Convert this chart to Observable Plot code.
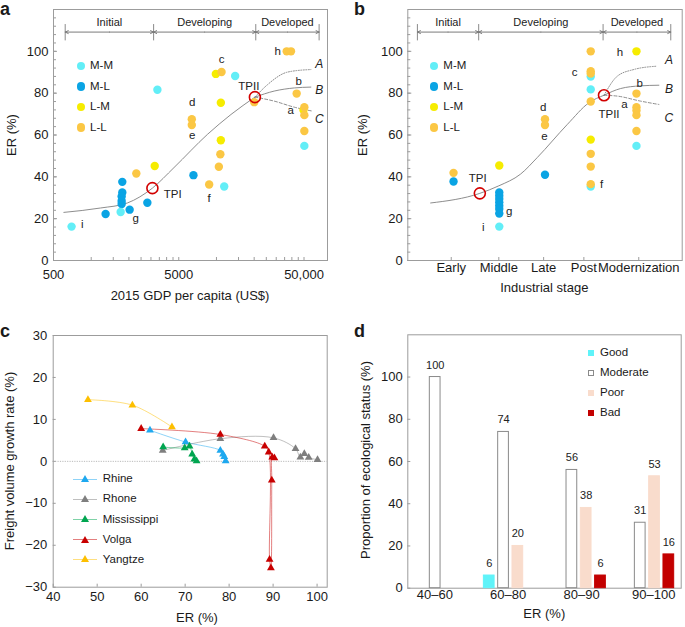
<!DOCTYPE html>
<html><head><meta charset="utf-8">
<script src="https://cdn.jsdelivr.net/npm/d3@7"></script>
<script src="https://cdn.jsdelivr.net/npm/@observablehq/plot@0.6"></script>
<style>
body{margin:0;background:#fff;}
#fig{position:relative;width:685px;height:627px;font-family:"Liberation Sans",Arial,Helvetica,sans-serif;color:#1a1a1a;overflow:hidden;background:#fff}
.lbl{position:absolute;white-space:nowrap;line-height:1;}
.sym{position:absolute;}
</style></head><body><div id="fig"></div>
<script>
// ---------- DATA ----------
// Panels a & b: groups
const groups = ["M-M", "M-L", "L-M", "L-L"];
const groupColors = ["#62eef7", "#0aa4e4", "#f6ec00", "#fbc744"];

// Panel a: GDP per capita (US$) vs ER (%)
const aMLgdp = [1303, 1771, 1771, 1750, 1750, 1750, 2027, 2807, 6550];
const aMLer  = [22.2, 37.6, 32.5, 30.6, 28.5, 27.0, 24.3, 27.6, 40.8];
const aMMgdp = [697, 1718, 3377, 11530, 14100, 50300];
const aMMer  = [16.2, 23.2, 81.6, 35.4, 88.2, 54.8];
const aLMgdp = [3214, 9885, 10840, 10840, 49500];
const aLMer  = [45.2, 89.2, 75.4, 57.5, 71.9];
const aLLgdp = [2292, 6355, 6355, 8745, 10450, 10740, 10980, 20030, 36370, 39370, 43690, 50300, 50300, 50300];
const aLLer  = [41.6, 67.5, 64.8, 36.3, 44.8, 50.8, 90.1, 75.7, 100, 100, 79.8, 73.3, 69.5, 61.9];
const aCurveGdp = [605, 1188, 1945, 3080, 4577, 8476, 13050, 20270];
const aCurveEr  = [23.0, 25.1, 27.5, 34.6, 44.4, 60.3, 69.8, 78.1];
const aBranchAgdp = [20270, 25600, 37100, 56700], aBranchAer = [78.1, 84.1, 90.1, 91.3];
const aBranchBgdp = [20270, 28900, 41800, 56700], aBranchBer = [78.1, 81.0, 82.5, 82.9];
const aBranchCgdp = [20270, 28900, 41800, 58600], aBranchCer = [78.1, 76.2, 73.3, 71.4];
const aTPgdp = [3080, 20270], aTPer = [34.6, 78.1];
const aLabText = ["h", "c", "d", "e", "f", "g", "i", "a", "b", "TPII", "TPI"];
const aLabGdp  = [30800, 11000, 6400, 6400, 8750, 2265, 848, 39200, 45400, 18150, 4470];
const aLabEr   = [100, 96.3, 75.4, 60, 29.5, 20.1, 17.1, 71.9, 85.7, 83.3, 31.8];
const aScenText = ["A", "B", "C"], aScenGdp = [66300, 66300, 66300], aScenEr = [93.7, 81.3, 67.5];
const aStageBounds = [620, 3150, 20600, 66000];
const stageNames = ["Initial", "Developing", "Developed"];
const aTickLabels = [500, 5000, 50000];

// Panel b: industrial stage vs ER (%)
const bStageLabels = ["Early", "Middle", "Late", "Post", "Modernization"];
const bStageTicks  = [0.95, 1.99, 2.97, 3.85, 5.05];
const bMLstage = [1, 2, 2, 2, 2, 2, 2, 2, 3];
const bMLer    = [37.8, 32.5, 31.0, 29.4, 27.8, 26.2, 24.6, 22.5, 41.0];
const bMMstage = [2, 4, 4, 4, 5];
const bMMer    = [16.2, 88.0, 81.8, 35.4, 54.8];
const bLMstage = [2, 4, 5];
const bLMer    = [45.4, 57.8, 100];
const bLLstage = [1, 3, 3, 4, 4, 4, 4, 4, 4, 4, 5, 5, 5, 5, 5];
const bLLer    = [41.9, 67.5, 64.8, 100, 90.5, 89.4, 76.0, 51.0, 44.9, 36.5, 79.8, 73.3, 71.7, 69.5, 61.9];
const bCurveStage = [0.5, 1.575, 1.99, 2.465, 2.83, 3.49, 3.96, 4.29];
const bCurveEr    = [27.5, 32.1, 35.7, 41.3, 49.2, 65.1, 75.4, 79.0];
const bBranchAst = [4.29, 4.58, 4.94, 5.45], bBranchAer = [79.0, 88.1, 91.3, 92.9];
const bBranchBst = [4.29, 4.65, 5.09, 5.49], bBranchBer = [79.0, 82.2, 83.5, 83.8];
const bBranchCst = [4.29, 4.58, 5.09, 5.49], bBranchCer = [79.0, 78.6, 76.2, 74.6];
const bTPstage = [1.575, 4.29], bTPer = [32.1, 79.0];
const bLabText  = ["h", "c", "d", "e", "f", "g", "i", "a", "b", "TPII", "TPI"];
const bLabStage = [4.64, 3.65, 2.96, 2.99, 4.24, 2.22, 1.65, 4.74, 5.07, 4.4, 1.53];
const bLabEr    = [99.7, 90, 73, 59.5, 36.5, 23.3, 15.9, 74.6, 84.9, 70.1, 39.4];
const bScenStage = [5.71, 5.71, 5.71], bScenEr = [95.6, 81.8, 68.2];
const bStageBounds = [0.21, 1.55, 4.27, 5.75];

// Panel c: ER (%) vs freight volume growth rate (%)
const rivers = ["Rhine", "Rhone", "Mississippi", "Volga", "Yangtze"];
const riverColors = ["#1ea8ef", "#7f7f7f", "#00a550", "#c80000", "#fdbf00"];
const rhineEr = [62.0, 70.1, 78.0, 78.6, 78.9, 79.2], rhineRate = [7.4, 4.6, 2.6, 1.7, 1.1, 0.1];
const rhoneEr = [64.9, 78.0, 90.1, 95.1, 96.2, 97.1, 98.1, 100.1], rhoneRate = [2.6, 5.4, 5.6, 3.0, 1.0, 1.8, 0.9, 0.4];
const missEr = [65.0, 69.9, 71.0, 71.6, 72.1, 72.6], missRate = [3.4, 3.2, 3.6, 1.7, 0.5, 0.1];
const volgaEr = [60.0, 78.0, 88.1, 89.0, 89.2, 89.5, 89.7, 89.8, 90.3], volgaRate = [7.8, 6.4, 3.6, 2.2, -23.4, -25.4, -4.5, 1.0, 0.8];
const yangtzeEr = [47.9, 58.0, 67.0], yangtzeRate = [14.7, 13.4, 8.2];

// Panel d: proportion of ecological status (%)
const dBins = ["40–60", "60–80", "80–90", "90–100"];
const dStatus = ["Good", "Moderate", "Poor", "Bad"];
const dGood = [0, 6, 0, 0];
const dModerate = [100, 74, 56, 31];
const dPoor = [0, 20, 38, 53];
const dBad = [0, 0, 6, 16];
const dFill = ["#5ff3f9", "#ffffff", "#f9dccc", "#c30000"];
const dStroke = ["#5ff3f9", "#8a8a8a", "#f9dccc", "#c30000"];

// ---------- HELPERS ----------
const fig = document.getElementById("fig");
const FONT = '"Liberation Sans", Arial, Helvetica, sans-serif';
const baseStyle = {fontFamily: FONT, fontSize: "13px", color: "#1a1a1a", background: "transparent", overflow: "visible"};
const FRAME = "#9c9c9c";
const CURVE = "#808080";
const TXT = "#222";
const zip = (xs, ys) => xs.map((x, i) => ({x, y: ys[i]}));

function mount(svg, left, top) {
  svg.style.position = "absolute";
  svg.style.left = left + "px";
  svg.style.top = top + "px";
  fig.appendChild(svg);
}
function label(text, x, y, {size = 11, anchor = "left", rotate = false, weight = "normal"} = {}) {
  const d = document.createElement("div");
  d.className = "lbl";
  d.textContent = text;
  d.style.left = x + "px";
  d.style.top = y + "px";
  d.style.fontSize = size + "px";
  d.style.fontWeight = weight;
  const tx = anchor === "center" ? "-50%" : "0";
  d.style.transform = `translate(${tx},-50%)` + (rotate ? " rotate(-90deg)" : "");
  fig.appendChild(d);
}
function sym(x, y, css) {
  const d = document.createElement("div");
  d.className = "sym";
  d.style.cssText += css;
  d.style.left = x + "px";
  d.style.top = y + "px";
  fig.appendChild(d);
}
function insideTicks(axis, values, len, span) {
  return axis === "x"
    ? Plot.tickX(values, {insetTop: span - len, stroke: FRAME, strokeWidth: 1})
    : Plot.tickY(values, {insetRight: span - len, stroke: FRAME, strokeWidth: 1});
}
const minorY = d3.range(0, 120, 4);
const majorY = [0, 20, 40, 60, 80, 100];

function header(bounds, mid) {
  const seps = bounds.map(x => ({x, y1: 105, y2: 112.8}));
  const arrows = [];
  const texts = [];
  for (let i = 0; i < bounds.length - 1; i++) {
    const m = mid(bounds[i], bounds[i + 1]);
    arrows.push({x1: m, x2: bounds[i], y: 109.2});
    arrows.push({x1: m, x2: bounds[i + 1], y: 109.2});
    texts.push({x: m, y: 114, t: stageNames[i]});
  }
  return [
    Plot.ruleX(seps, {x: "x", y1: "y1", y2: "y2", stroke: "#8a8a8a", strokeWidth: 1}),
    Plot.arrow(arrows, {x1: "x1", x2: "x2", y1: "y", y2: "y", stroke: "#7a7a7a", strokeWidth: 1, headLength: 5, headAngle: 50}),
    Plot.text(texts, {x: "x", y: "y", text: "t", fontSize: 11, fill: TXT})
  ];
}

// ---------- PANEL A ----------
const aMinorX = [...d3.range(500, 5000, 500), ...d3.range(5000, 50000, 5000), 50000];
const aW = 340, aH = 310, aML = 53, aMR = 13, aMT = 9, aMB = 50;
const aPW = aW - aML - aMR, aPH = aH - aMT - aMB;
const aGroupsData = [
  [zip(aMLgdp, aMLer), groupColors[1]],
  [zip(aMMgdp, aMMer), groupColors[0]],
  [zip(aLMgdp, aLMer), groupColors[2]],
  [zip(aLLgdp, aLLer), groupColors[3]]
];
const fmtGdp = d => d >= 10000 ? d3.format(",")(d) : String(d);
const plotA = Plot.plot({
  width: aW, height: aH, marginLeft: aML, marginRight: aMR, marginTop: aMT, marginBottom: aMB,
  style: baseStyle,
  x: {type: "log", domain: [500, 77000], axis: null, label: null},
  y: {domain: [0, 120], ticks: majorY, tickSize: 0, tickPadding: 5, label: null},
  marks: [
    Plot.frame({stroke: FRAME}),
    insideTicks("x", aMinorX, 3, aPH),
    insideTicks("y", minorY, 3, aPW),
    insideTicks("y", majorY, 4, aPW),
    Plot.text(aTickLabels, {x: d => d, text: fmtGdp, frameAnchor: "bottom", dy: 18, fontSize: 13, fill: "#1a1a1a"}),
    ...header(aStageBounds, (p, q) => Math.sqrt(p * q)),
    Plot.line(zip(aCurveGdp, aCurveEr), {x: "x", y: "y", stroke: CURVE, strokeWidth: 0.9, curve: "monotone-x"}),
    Plot.line(zip(aBranchAgdp, aBranchAer), {x: "x", y: "y", stroke: CURVE, strokeWidth: 0.9, strokeDasharray: "1,1.5", curve: "monotone-x"}),
    Plot.line(zip(aBranchBgdp, aBranchBer), {x: "x", y: "y", stroke: CURVE, strokeWidth: 0.9, curve: "monotone-x"}),
    Plot.line(zip(aBranchCgdp, aBranchCer), {x: "x", y: "y", stroke: CURVE, strokeWidth: 0.9, strokeDasharray: "3,2", curve: "monotone-x"}),
    ...aGroupsData.map(([d, c]) => Plot.dot(d, {x: "x", y: "y", r: 4.2, fill: c})),
    Plot.dot(zip(aTPgdp, aTPer), {x: "x", y: "y", r: 5.5, stroke: "#d20000", strokeWidth: 1.6, fill: "none"}),
    Plot.text(aLabText.map((t, i) => ({t, x: aLabGdp[i], y: aLabEr[i]})), {x: "x", y: "y", text: "t", fontSize: 11.5, fill: TXT}),
    Plot.text(aScenText.map((t, i) => ({t, x: aScenGdp[i], y: aScenEr[i]})), {x: "x", y: "y", text: "t", fontSize: 12, fontStyle: "italic", fill: TXT})
  ]
});
mount(plotA, 0, 0);

// ---------- PANEL B ----------
const bW = 345, bH = 310, bML = 67.3, bMR = 3.3, bMT = 9, bMB = 50;
const bPW = bW - bML - bMR, bPH = bH - bMT - bMB;
const bGroupsData = [
  [zip(bMLstage, bMLer), groupColors[1]],
  [zip(bMMstage, bMMer), groupColors[0]],
  [zip(bLMstage, bLMer), groupColors[2]],
  [zip(bLLstage, bLLer), groupColors[3]]
];
const plotB = Plot.plot({
  width: bW, height: bH, marginLeft: bML, marginRight: bMR, marginTop: bMT, marginBottom: bMB,
  style: baseStyle,
  x: {domain: [0, 6], axis: null, label: null},
  y: {domain: [0, 120], ticks: majorY, tickSize: 0, tickPadding: 5, label: null},
  marks: [
    Plot.frame({stroke: FRAME}),
    insideTicks("x", bStageTicks, 3, bPH),
    insideTicks("y", minorY, 3, bPW),
    insideTicks("y", majorY, 4, bPW),
    Plot.text(bStageTicks, {x: d => d, text: (d, i) => bStageLabels[i], frameAnchor: "bottom", dy: 11.5, fontSize: 13, fill: "#1a1a1a"}),
    ...header(bStageBounds, (p, q) => (p + q) / 2),
    Plot.line(zip(bCurveStage, bCurveEr), {x: "x", y: "y", stroke: CURVE, strokeWidth: 0.9, curve: "monotone-x"}),
    Plot.line(zip(bBranchAst, bBranchAer), {x: "x", y: "y", stroke: CURVE, strokeWidth: 0.9, strokeDasharray: "1,1.5", curve: "monotone-x"}),
    Plot.line(zip(bBranchBst, bBranchBer), {x: "x", y: "y", stroke: CURVE, strokeWidth: 0.9, curve: "monotone-x"}),
    Plot.line(zip(bBranchCst, bBranchCer), {x: "x", y: "y", stroke: CURVE, strokeWidth: 0.9, strokeDasharray: "3,2", curve: "monotone-x"}),
    ...bGroupsData.map(([d, c]) => Plot.dot(d, {x: "x", y: "y", r: 4.2, fill: c})),
    Plot.dot(zip(bTPstage, bTPer), {x: "x", y: "y", r: 5.5, stroke: "#d20000", strokeWidth: 1.6, fill: "none"}),
    Plot.text(bLabText.map((t, i) => ({t, x: bLabStage[i], y: bLabEr[i]})), {x: "x", y: "y", text: "t", fontSize: 11.5, fill: TXT}),
    Plot.text(aScenText.map((t, i) => ({t, x: bScenStage[i], y: bScenEr[i]})), {x: "x", y: "y", text: "t", fontSize: 12, fontStyle: "italic", fill: TXT})
  ]
});
mount(plotB, 340, 0);

// ---------- PANEL C ----------
const cW = 340, cH = 317, cML = 52.7, cMR = 13.3, cMT = 25, cMB = 40.3;
const cPW = cW - cML - cMR, cPH = cH - cMT - cMB;
const riverData = [
  zip(rhineEr, rhineRate), zip(rhoneEr, rhoneRate), zip(missEr, missRate), zip(volgaEr, volgaRate), zip(yangtzeEr, yangtzeRate)
];
const cXTicks = d3.range(40, 101, 10), cYTicks = d3.range(-30, 31, 10);
const plotC = Plot.plot({
  width: cW, height: cH, marginLeft: cML, marginRight: cMR, marginTop: cMT, marginBottom: cMB,
  style: baseStyle,
  x: {domain: [40, 102.3], ticks: cXTicks, tickSize: 0, tickPadding: 5, label: null},
  y: {domain: [-30, 30], ticks: cYTicks, tickSize: 0, tickPadding: 6, label: null},
  marks: [
    Plot.frame({stroke: FRAME}),
    insideTicks("x", cXTicks, 3, cPH),
    insideTicks("y", cYTicks, 3, cPW),
    Plot.ruleY([0], {stroke: "#a8a8a8", strokeWidth: 0.8, strokeDasharray: "1.2,1.2"}),
    ...riverData.map((d, i) => Plot.line(d, {x: "x", y: "y", stroke: riverColors[i], strokeOpacity: 0.5, strokeWidth: 1, curve: "catmull-rom"})),
    ...riverData.map((d, i) => Plot.dot(d, {x: "x", y: "y", symbol: "triangle", r: 2.9, fill: riverColors[i]}))
  ]
});
mount(plotC, 0, 310);

// ---------- PANEL D ----------
const dW = 345, dH = 317, dML = 67.3, dMR = 4.3, dMT = 24.3, dMB = 39.3;
const dPW = dW - dML - dMR, dPH = dH - dMT - dMB;
const dValues = [dGood, dModerate, dPoor, dBad];
const dGroupW = 4.78, dOff = 0.54, dBarW = 0.75;
const dRows = dStatus.map((s, si) => dBins.map((b, gi) => ({
  status: s, bin: b, v: dValues[si][gi], y0: 0,
  x1: gi * dGroupW + dOff + si, x2: gi * dGroupW + dOff + si + dBarW
})));
const dTickPos = [1.89, 7.02, 12.15, 17.2];
const plotD = Plot.plot({
  width: dW, height: dH, marginLeft: dML, marginRight: dMR, marginTop: dMT, marginBottom: dMB,
  style: baseStyle,
  x: {domain: [0, 4 * dGroupW], axis: null, label: null},
  y: {domain: [0, 120], ticks: majorY, tickSize: 0, tickPadding: 5, label: null},
  marks: [
    Plot.frame({stroke: FRAME}),
    insideTicks("y", majorY, 3, dPW),
    Plot.text(dTickPos, {x: d => d, text: (d, i) => dBins[i], frameAnchor: "bottom", dy: 11, fontSize: 13, fill: "#1a1a1a"}),
    ...dRows.map((rows, si) => Plot.rect(rows, {x1: "x1", x2: "x2", y1: "y0", y2: "v", fill: dFill[si], stroke: dStroke[si], strokeWidth: 1})),
    Plot.text(dRows.flat().filter(d => d.v > 0), {x: d => (d.x1 + d.x2) / 2, y: "v", text: d => String(d.v), dy: -12, fontSize: 11, fill: TXT})
  ]
});
mount(plotD, 340, 310);

// ---------- LEGENDS & TITLES (HTML) ----------
label("a", 0, 9, {size: 18, weight: "bold"});
label("b", 354, 9, {size: 18, weight: "bold"});
label("c", 0, 330.5, {size: 18, weight: "bold"});
label("d", 354, 330.5, {size: 18, weight: "bold"});

label("ER (%)", 11, 135, {size: 13, anchor: "center", rotate: true});
label("2015 GDP per capita (US$)", 190, 295, {size: 13, anchor: "center"});
label("ER (%)", 362, 135, {size: 13, anchor: "center", rotate: true});
label("Industrial stage", 544.3, 287, {size: 13, anchor: "center"});
label("Freight volume growth rate (%)", 8.5, 461, {size: 13, anchor: "center", rotate: true});
label("ER (%)", 197, 616.7, {size: 13, anchor: "center"});
label("Proportion of ecological status (%)", 364.5, 460, {size: 13, anchor: "center", rotate: true});
label("ER (%)", 544.3, 612.5, {size: 13, anchor: "center"});

const legY = [66, 86.5, 107, 127.5];
groups.forEach((g, i) => {
  [[81, 90], [434, 443.3]].forEach(([cx, tx]) => {
    sym(cx - 4.2, legY[i] - 4.2, `width:8.4px;height:8.4px;border-radius:50%;background:${groupColors[i]};`);
    label(g, tx, legY[i], {size: 11.5});
  });
});

const cLegY = [479, 499.3, 519.5, 539.7, 559.5];
rivers.forEach((r, i) => {
  sym(72.7, cLegY[i] - 0.5, `width:24px;height:1px;background:${riverColors[i]};opacity:0.5;`);
  sym(84.7 - 4, cLegY[i] - 4.2, `width:0;height:0;border-left:4px solid transparent;border-right:4px solid transparent;border-bottom:7px solid ${riverColors[i]};`);
  label(r, 102.7, cLegY[i], {size: 11.5});
});

const dLegY = [353.3, 373.3, 393.3, 413.3];
dStatus.forEach((s, i) => {
  sym(590.7 - 3, dLegY[i] - 3, `width:6px;height:6px;box-sizing:border-box;background:${dFill[i]};border:1px solid ${dStroke[i]};`);
  label(s, 600, dLegY[i], {size: 11.5});
});
</script>
</body></html>
